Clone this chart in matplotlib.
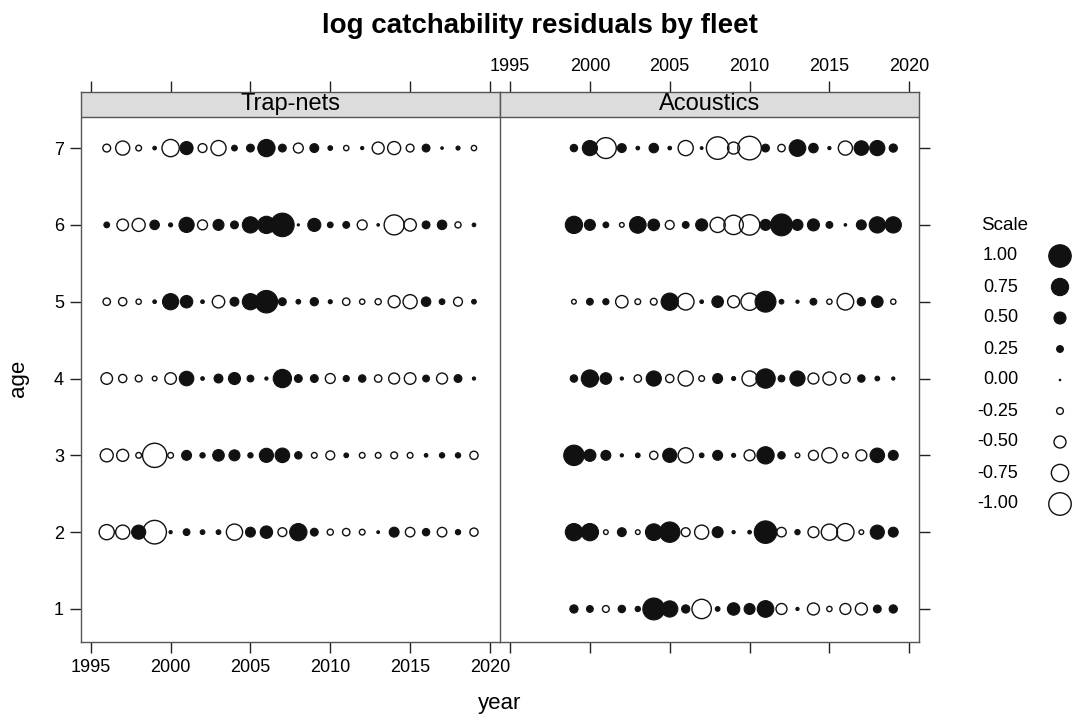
import numpy as np
import matplotlib.pyplot as plt
from matplotlib.patches import Rectangle

plt.rcParams['font.family'] = ['Liberation Sans', 'DejaVu Sans']

# -------------------- DATOS --------------------
years_trap = list(range(1996, 2020))
years_acou = list(range(1999, 2020))

# Trap-nets, edades 2-7 (1996..2019)
trap_age7 = [-0.30, -0.60, -0.20, 0.10, -0.75, 0.55, -0.35, -0.65, 0.20, 0.30, 0.75, 0.30,
             -0.40, 0.35, 0.15, -0.18, 0.08, -0.50, -0.55, -0.30, 0.30, 0.05, 0.12, -0.18]
trap_age6 = [0.20, -0.48, -0.55, 0.38, 0.12, 0.65, -0.40, 0.45, 0.30, 0.70, 0.75, 1.05,
             0.03, 0.55, 0.20, 0.25, -0.40, 0.05, -0.88, -0.52, 0.30, 0.38, -0.22, 0.10]
trap_age5 = [-0.28, -0.32, -0.18, 0.10, 0.70, 0.52, 0.10, -0.52, 0.35, 0.70, 1.00, 0.30,
             0.15, 0.32, 0.12, -0.28, -0.18, -0.22, -0.50, -0.60, 0.38, 0.20, -0.35, 0.15]
trap_age4 = [-0.48, -0.32, -0.25, -0.15, -0.48, 0.62, 0.10, 0.35, 0.50, 0.25, 0.08, 0.80,
             0.30, 0.30, -0.40, 0.22, 0.28, -0.28, -0.45, -0.48, 0.25, -0.45, 0.30, 0.08]
trap_age3 = [-0.55, -0.50, -0.20, -1.08, -0.20, 0.40, 0.18, 0.48, 0.45, 0.18, 0.60, 0.62,
             0.28, -0.20, -0.35, 0.15, -0.20, -0.20, -0.25, -0.20, 0.10, 0.18, 0.18, -0.32]
trap_age2 = [-0.65, -0.60, 0.60, -1.05, 0.08, 0.25, 0.15, 0.15, -0.70, 0.40, 0.52, -0.35,
             0.75, 0.30, -0.22, -0.28, -0.20, 0.06, 0.40, -0.38, 0.28, -0.38, 0.18, -0.32]

# Acoustics, edades 1-7 (1999..2019)
acou_age7 = [0.28, 0.65, -0.92, 0.35, 0.10, 0.38, 0.10, -0.65, 0.06, -1.00, -0.50,
             -1.05, 0.30, -0.28, 0.72, 0.38, 0.08, -0.60, 0.62, 0.65, 0.32]
acou_age6 = [0.75, 0.45, 0.20, -0.15, 0.72, 0.48, -0.35, 0.25, 0.50, -0.65, -0.85,
             -0.90, 0.45, 0.97, 0.45, 0.50, 0.25, 0.05, 0.40, 0.70, 0.70]
acou_age5 = [-0.15, 0.25, 0.22, -0.52, -0.20, -0.25, 0.75, -0.72, 0.10, 0.48, -0.50,
             -0.75, 0.92, 0.15, 0.08, 0.25, -0.18, -0.72, 0.32, 0.48, -0.18]
acou_age4 = [0.28, 0.75, 0.48, 0.08, -0.28, 0.65, -0.32, -0.65, -0.20, 0.40, 0.12,
             -0.65, 0.85, 0.25, 0.65, -0.45, -0.55, -0.38, 0.28, 0.15, 0.08]
acou_age3 = [0.90, 0.50, 0.40, 0.08, 0.15, -0.32, 0.60, -0.65, 0.15, 0.40, 0.12,
             -0.45, 0.75, 0.28, -0.15, -0.40, -0.65, -0.20, -0.45, 0.62, 0.40]
acou_age2 = [0.75, 0.75, -0.15, 0.35, -0.15, 0.72, 0.90, -0.35, -0.60, 0.45, 0.08,
             0.10, 1.00, -0.38, 0.18, -0.45, -0.70, -0.75, -0.15, 0.60, 0.40]
acou_age1 = [0.32, 0.25, -0.25, 0.28, 0.18, 0.97, 0.70, 0.32, -0.85, 0.15, 0.52,
             0.45, 0.72, -0.45, 0.08, -0.50, -0.18, -0.45, -0.50, 0.30, 0.32]

scale_vals = [1.00, 0.75, 0.50, 0.25, 0.00, -0.25, -0.50, -0.75, -1.00]

paneles = [
    ("Trap-nets", years_trap, {7: trap_age7, 6: trap_age6, 5: trap_age5, 4: trap_age4,
                               3: trap_age3, 2: trap_age2}),
    ("Acoustics", years_acou, {7: acou_age7, 6: acou_age6, 5: acou_age5, 4: acou_age4,
                               3: acou_age3, 2: acou_age2, 1: acou_age1}),
]

# -------------------- FIGURA --------------------
W, H = 1072, 716
fig = plt.figure(figsize=(W / 100, H / 100), dpi=100)


def ejes_px(left, top, right, bottom):
    return fig.add_axes([left / W, 1 - bottom / H, (right - left) / W, (bottom - top) / H])


def tam(v):
    # diametro en px -> area en pt^2
    d = (1.5 + 21 * np.abs(np.asarray(v))) * 0.72
    return d ** 2


def burbujas(ax, x, y, v):
    v = np.asarray(v)
    pos = v >= 0
    ax.scatter(np.asarray(x)[~pos], np.asarray(y)[~pos], s=tam(v[~pos]), facecolors='none',
               edgecolors='#111111', linewidths=1.0, zorder=3)
    ax.scatter(np.asarray(x)[pos], np.asarray(y)[pos], s=tam(v[pos]), facecolors='#111111',
               edgecolors='#111111', linewidths=0.8, zorder=4)


xticks = [1995, 2000, 2005, 2010, 2015, 2020]
ages = [1, 2, 3, 4, 5, 6, 7]
borde = '#555555'
ylo, yhi = 0.57, 7.73
strip_frac = (642 - 117) / (642 - 92)

axes = [ejes_px(80.7, 92, 500, 642), ejes_px(500, 92, 919.3, 642)]

for i, (ax, (nombre, years, datos)) in enumerate(zip(axes, paneles)):
    for age, vals in datos.items():
        burbujas(ax, years, [age] * len(years), vals)
    ax.set_xlim(1994.37, 2020.63)
    ax.set_ylim(ylo, yhi)
    ax.set_xticks(xticks)
    ax.set_yticks(ages)
    for sp in ax.spines.values():
        sp.set_color(borde)
        sp.set_linewidth(1.0)
    # franja del panel
    ax.add_patch(Rectangle((0, strip_frac), 1, 1 - strip_frac, transform=ax.transAxes,
                           facecolor='#dcdcdc', edgecolor=borde, linewidth=1.0, zorder=5))
    ax.text(0.5, (1 + strip_frac) / 2, nombre, transform=ax.transAxes, ha='center',
            va='center', fontsize=17, zorder=6)
    ax.tick_params(axis='both', direction='out', length=8, width=1.0, color='#222222',
                   labelsize=13, pad=4)
    if i == 0:
        ax.tick_params(axis='x', top=True, labeltop=False, bottom=True, labelbottom=True)
        ax.tick_params(axis='y', left=True, labelleft=True, right=False, labelright=False)
    else:
        ax.tick_params(axis='x', top=True, labeltop=True, bottom=True, labelbottom=False)
        ax.tick_params(axis='y', left=False, labelleft=False, right=True, labelright=False)

axes[0].spines['right'].set_visible(False)

fig.text(540 / W, 1 - 26 / H, "log catchability residuals by fleet", ha='center',
         va='center', fontsize=20, fontweight='bold')
fig.text(500 / W, 1 - 703 / H, "year", ha='center', va='center', fontsize=16)
fig.text(18 / W, 1 - 378 / H, "age", ha='center', va='center', fontsize=16, rotation=90)

# -------------------- LEYENDA --------------------
ax_key = fig.add_axes([0, 0, 1, 1])
ax_key.set_xlim(0, W)
ax_key.set_ylim(H, 0)
ax_key.axis('off')
ax_key.text(1005, 226, "Scale", ha='center', va='center', fontsize=13.5)
ys_key = [256 + 31 * k for k in range(len(scale_vals))]
burbujas(ax_key, [1060] * len(scale_vals), ys_key, scale_vals)
for v, yk in zip(scale_vals, ys_key):
    ax_key.text(1018, yk, f"{v:.2f}", ha='right', va='center', fontsize=13)

fig.savefig("out.png", dpi=100)
